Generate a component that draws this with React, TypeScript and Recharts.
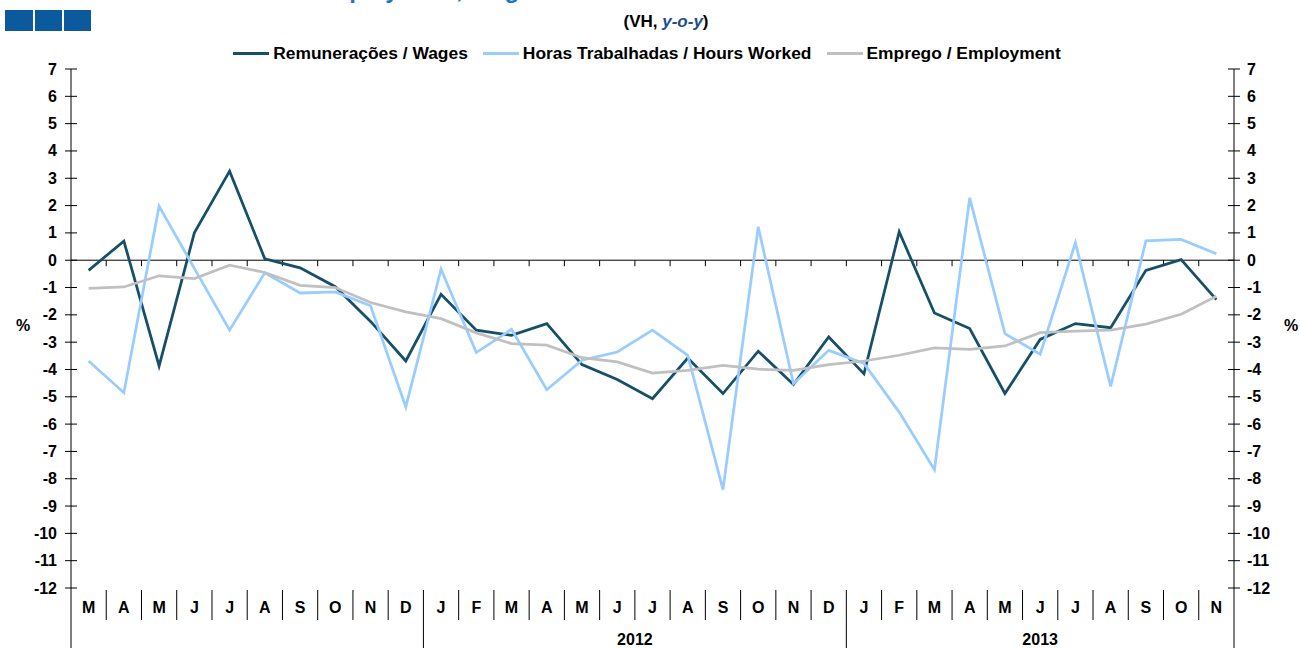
import React from "react";
import { LineChart, Line, XAxis, YAxis, ReferenceLine, Legend } from "recharts";

const months = ["M","A","M","J","J","A","S","O","N","D","J","F","M","A","M","J","J","A","S","O","N","D","J","F","M","A","M","J","J","A","S","O","N"];
const yearNames = ["2012", "2013"];
const wages = [-0.37,0.7,-3.87,1.0,3.26,0.05,-0.28,-0.97,-2.24,-3.69,-1.25,-2.56,-2.75,-2.32,-3.82,-4.37,-5.07,-3.58,-4.88,-3.33,-4.55,-2.81,-4.16,1.04,-1.93,-2.5,-4.88,-2.9,-2.32,-2.47,-0.37,0.02,-1.44];
const hours = [-3.69,-4.85,1.98,-0.3,-2.56,-0.46,-1.2,-1.16,-1.67,-5.37,-0.33,-3.38,-2.53,-4.74,-3.66,-3.36,-2.56,-3.48,-8.4,1.22,-4.52,-3.3,-3.78,-5.56,-7.67,2.28,-2.69,-3.44,0.64,-4.62,0.71,0.76,0.24];
const employment = [-1.03,-0.98,-0.57,-0.67,-0.18,-0.45,-0.92,-1.0,-1.55,-1.89,-2.14,-2.66,-3.05,-3.11,-3.57,-3.72,-4.13,-4.03,-3.85,-3.99,-4.03,-3.82,-3.69,-3.48,-3.21,-3.26,-3.14,-2.65,-2.6,-2.56,-2.34,-1.98,-1.32];
const yTicks = [-12,-11,-10,-9,-8,-7,-6,-5,-4,-3,-2,-1,0,1,2,3,4,5,6,7];

const seriesNames = ["Remunerações / Wages", "Horas Trabalhadas / Hours Worked", "Emprego / Employment"];
const colors = ["#164f68", "#99ccff", "#c0c0c0"];

const data = months.map((m, i) => ({ m, i, wages: wages[i], hours: hours[i], employment: employment[i] }));

const W = 1300;
const H = 648;
const LEFT_W = 71;
const RIGHT_W = 66;
const LEGEND_H = 20;
const TOP = 69 - LEGEND_H;
const XAXIS_H = 60;
const N = months.length;
const BAND = (W - LEFT_W - RIGHT_W) / N;
const FONT = "'Liberation Sans', Arial, sans-serif";

// year groups: starts where previous month is D
const yearStarts: number[] = [];
months.forEach((m, i) => { if (i > 0 && months[i - 1] === "D") yearStarts.push(i); });
const yearGroups = yearStarts.map((s, k) => {
  const e = k + 1 < yearStarts.length ? yearStarts[k + 1] - 1 : N - 1;
  return { name: yearNames[k], center: (s + e) / 2 };
});

const LeftTick = (props: any) => {
  const { x, y, payload } = props;
  return (
    <g>
      <line x1={x - 6} x2={x + 6} y1={y} y2={y} stroke="#000" strokeWidth={1} />
      <text x={x - 14} y={y} dy={5.5} textAnchor="end" fontFamily={FONT} fontWeight="bold" fontSize={16} fill="#000">{payload.value}</text>
    </g>
  );
};
const RightTick = (props: any) => {
  const { x, y, payload } = props;
  return (
    <g>
      <line x1={x - 6} x2={x + 6} y1={y} y2={y} stroke="#000" strokeWidth={1} />
      <text x={x + 13} y={y} dy={5.5} textAnchor="start" fontFamily={FONT} fontWeight="bold" fontSize={16} fill="#000">{payload.value}</text>
    </g>
  );
};

const MonthTick = (props: any) => {
  const { x, y, payload, index } = props;
  const i = index;
  const leftX = x - BAND / 2;
  const isYearStart = yearStarts.includes(i);
  const els: any[] = [];
  els.push(<text key="t" x={x} y={y + 25} textAnchor="middle" fontFamily={FONT} fontWeight="bold" fontSize={16} fill="#000">{payload.value}</text>);
  if (i === 0) {
    els.push(<line key="l" x1={leftX} x2={leftX} y1={y} y2={y + 60} stroke="#000" strokeWidth={1} />);
  } else if (isYearStart) {
    els.push(<line key="l" x1={leftX} x2={leftX} y1={y + 2} y2={y + 60} stroke="#000" strokeWidth={1} />);
  } else {
    els.push(<line key="l" x1={leftX} x2={leftX} y1={y + 2} y2={y + 32} stroke="#000" strokeWidth={1} />);
  }
  if (i === N - 1) {
    els.push(<line key="r" x1={x + BAND / 2} x2={x + BAND / 2} y1={y} y2={y + 60} stroke="#000" strokeWidth={1} />);
  }
  yearGroups.forEach((g, k) => {
    if (Math.ceil(g.center) === i) {
      const cx = x - (i - g.center) * BAND;
      els.push(<text key={"y" + k} x={cx} y={y + 57} textAnchor="middle" fontFamily={FONT} fontWeight="bold" fontSize={16} fill="#000">{g.name}</text>);
    }
  });
  return <g>{els}</g>;
};

const ZeroLine = (props: any) => {
  const { x1, x2, y1 } = props;
  const ticks = [];
  for (let k = 1; k < N; k++) {
    const tx = x1 + (k * (x2 - x1)) / N;
    ticks.push(<line key={k} x1={tx} x2={tx} y1={y1} y2={y1 + 6} stroke="#000" strokeWidth={1} />);
  }
  return (
    <g>
      <line x1={x1} x2={x2} y1={y1} y2={y1} stroke="#000" strokeWidth={1} />
      {ticks}
    </g>
  );
};

const LegendContent = () => (
  <div style={{ display: "flex", justifyContent: "center", alignItems: "center", height: LEGEND_H, fontFamily: FONT, fontWeight: "bold", fontSize: 17.4, color: "#000", paddingRight: 6, boxSizing: "border-box" }}>
    {seriesNames.map((n, k) => (
      <div key={k} style={{ display: "flex", alignItems: "center", marginLeft: k === 0 ? 0 : 15 }}>
        <div style={{ width: 36, height: 3, background: colors[k], marginRight: 4 }} />
        <span>{n}</span>
      </div>
    ))}
  </div>
);

export default function App() {
  return (
    <div style={{ position: "absolute", left: 0, top: 0, width: W, height: H, background: "#fff", overflow: "hidden" }}>
      <div style={{ position: "absolute", left: 5, top: 10, width: 28, height: 21, background: "#0b5a9e" }} />
      <div style={{ position: "absolute", left: 35, top: 10, width: 27, height: 21, background: "#0b5a9e" }} />
      <div style={{ position: "absolute", left: 64, top: 10, width: 27, height: 21, background: "#0b5a9e" }} />
      <div style={{ position: "absolute", left: 312, top: -22, fontFamily: FONT, fontWeight: "bold", fontSize: 24, lineHeight: "24px", color: "#1a74c4", whiteSpace: "nowrap" }}>
        Employment, Wages and Hours Worked
      </div>
      <div style={{ position: "absolute", left: 0, width: W, top: 12, textAlign: "center", fontFamily: FONT, fontWeight: "bold", fontSize: 17, color: "#000", paddingLeft: 32, boxSizing: "border-box" }}>
        (VH, <span style={{ fontStyle: "italic", color: "#1f4e8c" }}>y-o-y</span>)
      </div>
      <LineChart width={W} height={H} data={data} margin={{ top: TOP, right: 0, left: 0, bottom: 0 }}>
        <Legend verticalAlign="top" height={LEGEND_H} wrapperStyle={{ top: 43, left: 0, width: W }} content={<LegendContent />} />
        <XAxis dataKey="m" interval={0} height={XAXIS_H} padding={{ left: BAND / 2, right: BAND / 2 }} axisLine={false} tickLine={false} tickSize={0} tickMargin={0} tick={<MonthTick />} />
        <YAxis yAxisId="left" orientation="left" width={LEFT_W} domain={[-12, 7]} ticks={yTicks} interval={0} allowDataOverflow axisLine={{ stroke: "#000", strokeWidth: 1 }} tickLine={false} tickSize={0} tickMargin={0} tick={<LeftTick />}
          label={({ viewBox }: any) => <text x={viewBox.x + 16} y={viewBox.y + viewBox.height / 2} dy={2} fontFamily={FONT} fontWeight="bold" fontSize={16} fill="#000">%</text>} />
        <YAxis yAxisId="right" orientation="right" width={RIGHT_W} domain={[-12, 7]} ticks={yTicks} interval={0} allowDataOverflow axisLine={{ stroke: "#000", strokeWidth: 1 }} tickLine={false} tickSize={0} tickMargin={0} tick={<RightTick />}
          label={({ viewBox }: any) => <text x={viewBox.x + 50} y={viewBox.y + viewBox.height / 2} dy={2} fontFamily={FONT} fontWeight="bold" fontSize={16} fill="#000">%</text>} />
        <ReferenceLine yAxisId="left" y={0} shape={<ZeroLine />} ifOverflow="visible" />
        <Line yAxisId="left" type="linear" dataKey="wages" name={seriesNames[0]} stroke={colors[0]} strokeWidth={2.75} dot={false} isAnimationActive={false} />
        <Line yAxisId="left" type="linear" dataKey="hours" name={seriesNames[1]} stroke={colors[1]} strokeWidth={2.75} dot={false} isAnimationActive={false} />
        <Line yAxisId="right" type="linear" dataKey="employment" name={seriesNames[2]} stroke={colors[2]} strokeWidth={2.75} dot={false} isAnimationActive={false} />
      </LineChart>
    </div>
  );
}
